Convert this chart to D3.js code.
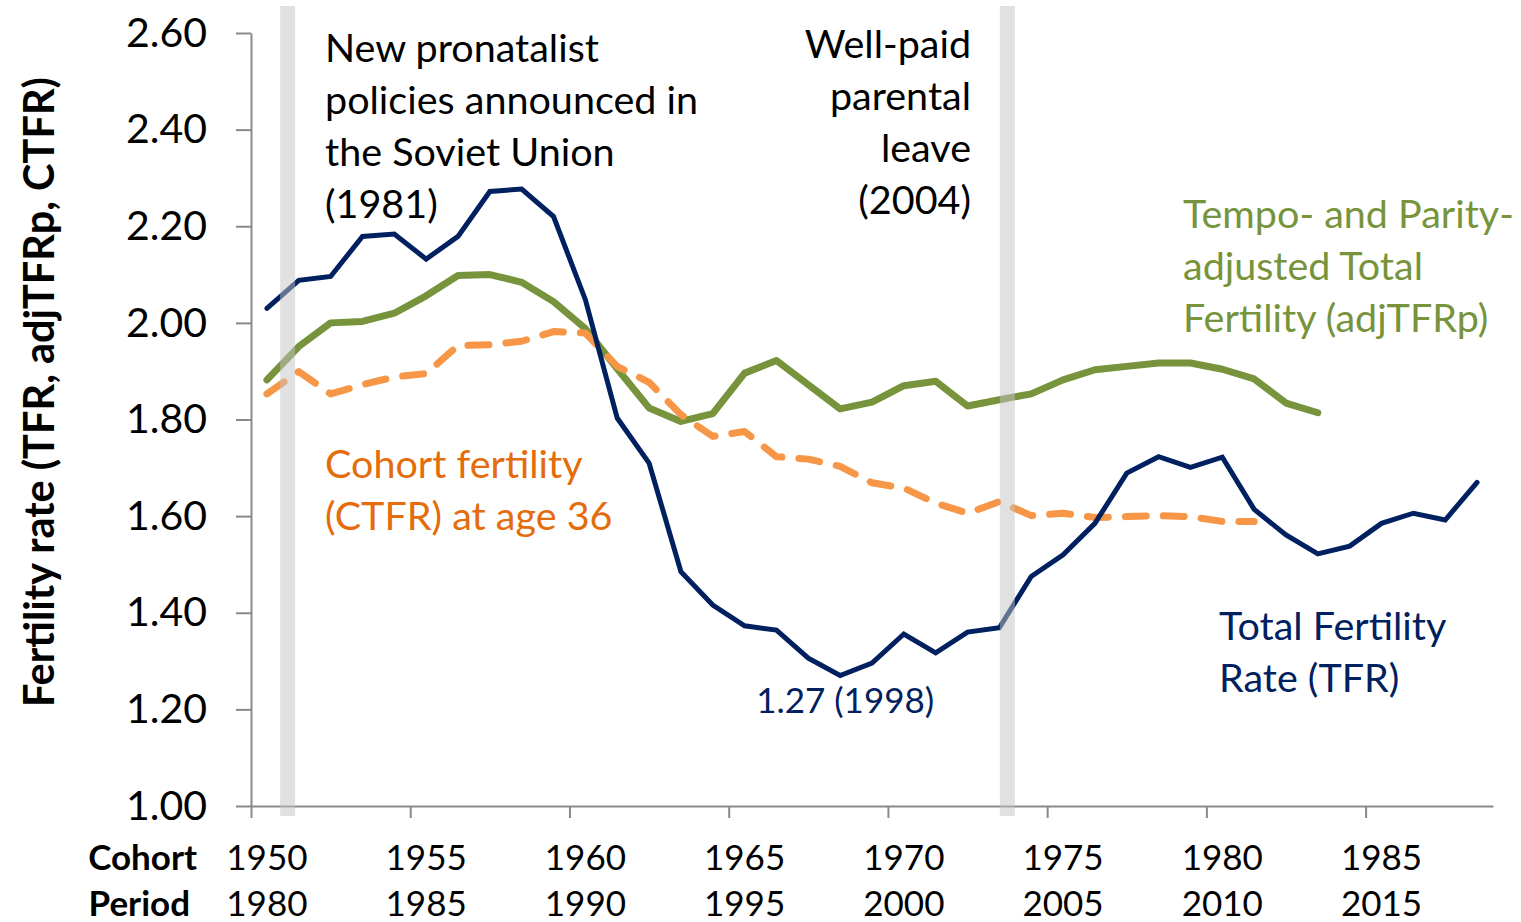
<!DOCTYPE html>
<html>
<head>
<meta charset="utf-8">
<script src="https://cdn.jsdelivr.net/npm/d3@7"></script>
<style>
  body { margin: 0; background: #fff; }
  svg text { font-family: Lato, "Open Sans", sans-serif; }
</style>
</head>
<body>
<svg id="chart" width="1521" height="922"></svg>
<script>
// cohorts 1950-1988 (period = cohort + 30)
const cohorts = d3.range(1950, 1989);
const tfr = [2.03, 2.088, 2.096, 2.179, 2.184, 2.132, 2.179, 2.272, 2.277, 2.22,
  2.048, 1.803, 1.71, 1.485, 1.416, 1.373, 1.364, 1.306, 1.27, 1.296,
  1.356, 1.317, 1.36, 1.369, 1.475, 1.52, 1.585, 1.689, 1.723, 1.701,
  1.722, 1.614, 1.561, 1.522, 1.538, 1.585, 1.606, 1.592, 1.67];
const adjTFRp = [1.882, 1.951, 2.0, 2.003, 2.02, 2.056, 2.098, 2.1, 2.084, 2.044,
  1.988, 1.905, 1.824, 1.796, 1.812, 1.896, 1.922, 1.872, 1.822, 1.836,
  1.87, 1.879, 1.828, 1.841, 1.853, 1.882, 1.903, 1.91, 1.917, 1.917,
  1.904, 1.884, 1.834, 1.814];
const ctfr = [1.853, 1.899, 1.853, 1.872, 1.888, 1.895, 1.953, 1.955, 1.962, 1.982,
  1.979, 1.91, 1.877, 1.81, 1.765, 1.775, 1.723, 1.718, 1.703, 1.669,
  1.658, 1.627, 1.606, 1.63, 1.601, 1.606, 1.597, 1.599, 1.601, 1.599,
  1.589, 1.589];
const cohortLabels = [1950, 1955, 1960, 1965, 1970, 1975, 1980, 1985];
const periodLabels = [1980, 1985, 1990, 1995, 2000, 2005, 2010, 2015];
const yTicks = [1.0, 1.2, 1.4, 1.6, 1.8, 2.0, 2.2, 2.4, 2.6];
// policy events (period 1981, 2004) shown as grey bars, in cohort units
const policyBars = [1950.65, 1973.25];

const svg = d3.select("#chart");

const x = d3.scaleLinear().domain([1949.5, 1988.5]).range([251, 1493]);
const y = d3.scaleLinear().domain([1.0, 2.6]).range([806, 33]);

// axes
const yAxis = svg.append("g")
  .attr("transform", "translate(251,0)")
  .call(d3.axisLeft(y).tickValues(yTicks).tickFormat(d3.format(".2f"))
    .tickSize(15).tickSizeOuter(0).tickPadding(29));

const xAxis = svg.append("g")
  .attr("transform", "translate(0,806)")
  .call(d3.axisBottom(x).tickValues(d3.range(1949.5, 1989, 5)).tickFormat("")
    .tickSize(12).tickSizeOuter(0));

[yAxis, xAxis].forEach(function(g) {
  g.selectAll("path, line").attr("stroke", "#898989").attr("stroke-width", 2);
});
yAxis.selectAll("text")
  .attr("font-size", 41).attr("fill", "#000")
  .style("font-family", "Lato, sans-serif");

// x labels: cohort and period rows
svg.append("g").selectAll("text")
  .data(cohortLabels)
  .enter()
  .append("text")
    .attr("x", d => x(d))
    .attr("y", 870)
    .attr("text-anchor", "middle")
    .attr("font-size", 35)
    .text(d => d);

svg.append("g").selectAll("text")
  .data(periodLabels)
  .enter()
  .append("text")
    .attr("x", d => x(d - 30))
    .attr("y", 916)
    .attr("text-anchor", "middle")
    .attr("font-size", 35)
    .text(d => d);

svg.append("text")
  .attr("x", 197).attr("y", 870)
  .attr("text-anchor", "end")
  .attr("font-size", 35).attr("font-weight", "bold")
  .text("Cohort");
svg.append("text")
  .attr("x", 190).attr("y", 916)
  .attr("text-anchor", "end")
  .attr("font-size", 35).attr("font-weight", "bold")
  .text("Period");

// y title
svg.append("text")
  .attr("transform", "translate(54,392) rotate(-90)")
  .attr("text-anchor", "middle")
  .attr("font-size", 41.5).attr("font-weight", "bold")
  .text("Fertility rate (TFR, adjTFRp, CTFR)");

// series
const line = d3.line()
  .x((d, i) => x(cohorts[i]))
  .y(d => y(d));

svg.append("path")
  .datum(adjTFRp)
  .attr("d", line)
  .attr("fill", "none")
  .attr("stroke", "#77933c")
  .attr("stroke-width", 7)
  .attr("stroke-linejoin", "round")
  .attr("stroke-linecap", "round");

svg.append("path")
  .datum(ctfr)
  .attr("d", line)
  .attr("fill", "none")
  .attr("stroke", "#f79646")
  .attr("stroke-width", 7)
  .attr("stroke-dasharray", "21,17")
  .attr("stroke-linejoin", "round")
  .attr("stroke-linecap", "round");

svg.append("path")
  .datum(tfr)
  .attr("d", line)
  .attr("fill", "none")
  .attr("stroke", "#002060")
  .attr("stroke-width", 5)
  .attr("stroke-linejoin", "miter")
  .attr("stroke-linecap", "round");

// grey policy bars drawn over the lines
svg.append("g").selectAll("rect")
  .data(policyBars)
  .enter()
  .append("rect")
    .attr("x", d => x(d) - 7.5)
    .attr("y", 6)
    .attr("width", 15)
    .attr("height", 810)
    .attr("fill", "#c4c4c4")
    .attr("opacity", 0.5);

// annotations
function block(lines, xPos, yPos, anchor, color) {
  const t = svg.append("text")
    .attr("x", xPos).attr("y", yPos)
    .attr("text-anchor", anchor)
    .attr("font-size", 39.5)
    .attr("fill", color);
  lines.forEach(function(s, i) {
    t.append("tspan").attr("x", xPos).attr("dy", i === 0 ? 0 : 52).text(s);
  });
}

block(["New pronatalist", "policies announced in", "the Soviet Union", "(1981)"],
  325, 62, "start", "#000");
block(["Well-paid", "parental", "leave", "(2004)"], 971, 58, "end", "#000");
block(["Tempo- and Parity-", "adjusted Total", "Fertility (adjTFRp)"],
  1183, 228, "start", "#77933c");
block(["Cohort fertility", "(CTFR) at age 36"], 325, 478, "start", "#e46c0a");
block(["Total Fertility", "Rate (TFR)"], 1219, 640, "start", "#002060");

svg.append("text")
  .attr("x", x(1968) - 84)
  .attr("y", y(1.27) + 37)
  .attr("font-size", 35)
  .attr("fill", "#002060")
  .text("1.27 (1998)");
</script>
</body>
</html>
